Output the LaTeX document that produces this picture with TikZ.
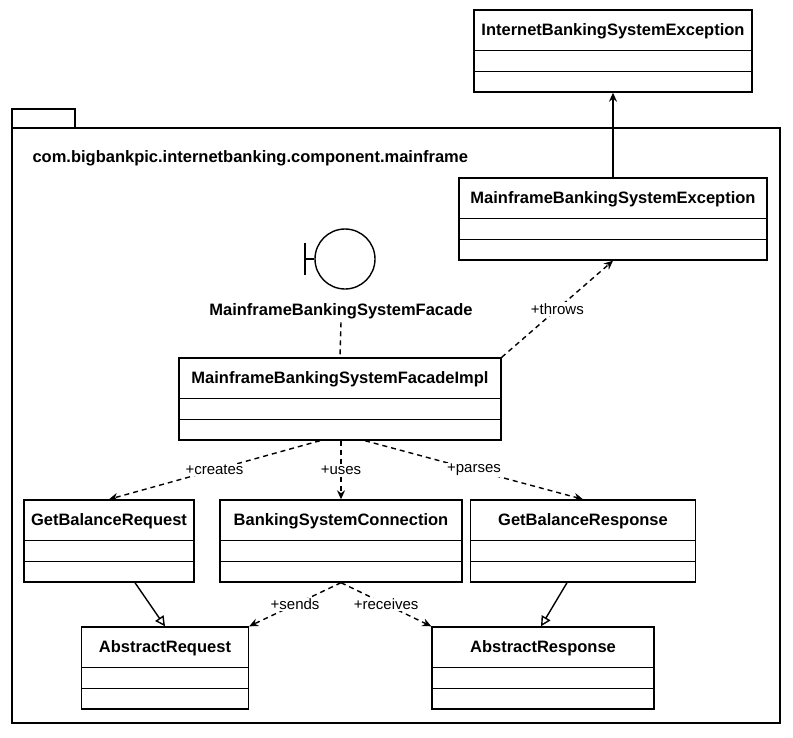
\documentclass[tikz,border=0pt]{standalone}
\usepackage{fontspec}
\setmainfont{Liberation Sans}
\usetikzlibrary{calc,arrows.meta,positioning}

\tikzset{
  cls/.style={draw, line width=1.4pt, minimum height=82pt, inner sep=0pt, fill=white},
  title/.style={font=\fontsize{16.5}{19}\selectfont\bfseries},
  dep/.style={line width=1.4pt, dashed, dash pattern=on 5pt off 4pt, -{Stealth[length=9pt,width=8pt]}},
  assoc/.style={line width=1.4pt, -{Stealth[length=9pt,width=8pt]}},
  gen/.style={line width=1.4pt, -{Triangle[open,length=10pt,width=10pt]}},
  lbl/.style={font=\fontsize{15}{18}\selectfont, fill=white, inner sep=1pt}
}

\newcommand{\classbox}[5]{%
  \node[cls, minimum width=#4pt] (#1) at (#2,#3+41) {};
  \node[title] at (#2,#3+21) {#5};
  \draw[line width=1.4pt] ($(#1.north west)+(0,41)$) -- ($(#1.north east)+(0,41)$);
  \draw[line width=1.4pt] ($(#1.north west)+(0,62)$) -- ($(#1.north east)+(0,62)$);
}

\begin{document}
\begin{tikzpicture}[x=1pt,y=-1pt]
  \useasboundingbox (0,0) rectangle (793,737);
  % package
  \draw [line width=1.4pt] (12,128) rectangle (780,723);
  \draw [line width=1.4pt] (12,109) rectangle (75,128);
  \node[title, anchor=west] at (29,158) {com.bigbankpic.internetbanking.component.mainframe};

  % classes
  \classbox{ibse}{613}{10}{278}{InternetBankingSystemException}
  \classbox{mbse}{613}{178}{308}{MainframeBankingSystemException}
  \classbox{impl}{340}{358}{322}{MainframeBankingSystemFacadeImpl}
  \classbox{gbreq}{109}{500}{170}{GetBalanceRequest}
  \classbox{bsc}{341}{500}{242}{BankingSystemConnection}
  \classbox{gbres}{583}{500}{225}{GetBalanceResponse}
  \classbox{areq}{165}{627}{167}{AbstractRequest}
  \classbox{ares}{543}{627}{222}{AbstractResponse}

  % interface
  \node[draw, circle, line width=1.4pt, minimum size=60pt, inner sep=0pt] (facade) at (345,259) {};
  \draw [line width=1.4pt] (305,243) -- (305,275);
  \draw [line width=1.4pt] (305,259) -- (facade.west);
  \node[title] (facadelbl) at (341,311) {MainframeBankingSystemFacade};

  % connectors
  \draw [assoc] (mbse.north) -- (ibse.south);
  \draw [dep] (impl.north east) -- node[lbl, pos=0.5] {+throws} (mbse.south);
  \draw [line width=1.4pt, dashed, dash pattern=on 5pt off 4pt] (facadelbl.south) -- (impl.north);
  \draw [dep] ($(impl.south)+(-20,0)$) -- node[lbl] {+creates} (gbreq.north);
  \draw [dep] ($(impl.south)+(1,0)$) -- node[lbl] {+uses} (bsc.north);
  \draw [dep] ($(impl.south)+(25,0)$) -- node[lbl] {+parses} (gbres.north);
  \draw [gen] ($(gbreq.south)+(26,0)$) -- (areq.north);
  \draw [gen] ($(gbres.south)+(-16,0)$) -- ($(ares.north)+(-2,0)$);
  \draw [dep] (bsc.south) -- node[lbl] {+sends} (areq.north east);
  \draw [dep] (bsc.south) -- node[lbl] {+receives} (ares.north west);
\end{tikzpicture}
\end{document}
